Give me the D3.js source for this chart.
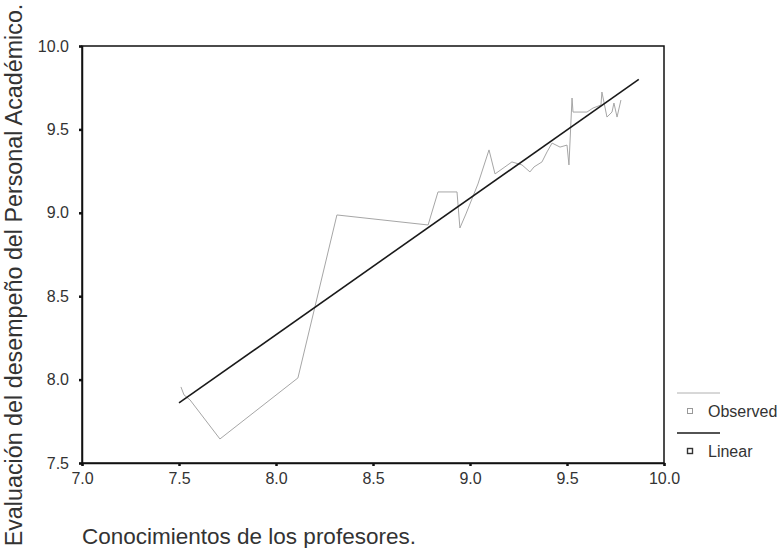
<!DOCTYPE html>
<html>
  <head>
    <meta charset="utf-8">
    <title>Observed vs Linear</title>
    <style>
      body { margin: 0; background: #fff; }
      text { font-family: Arial, "Liberation Sans", sans-serif; fill: #333; }
    </style>
  </head>
  <body>
    <script src="https://cdn.jsdelivr.net/npm/d3@7/dist/d3.min.js"></script>
    <svg id="chart" width="782" height="548"></svg>
    <script>
      // observed series
      const obsX = [7.51, 7.526, 7.557, 7.711, 8.113, 8.314, 8.784, 8.835, 8.933, 8.948, 8.979, 9.041,
              9.098, 9.129, 9.18, 9.216, 9.268, 9.309, 9.33, 9.371, 9.397, 9.423, 9.464, 9.5,
              9.51, 9.526, 9.531, 9.603, 9.634, 9.675, 9.68, 9.706, 9.732, 9.742, 9.758, 9.778]
      const obsY = [7.956, 7.908, 7.878, 7.644, 8.01, 8.987, 8.927, 9.125, 9.125, 8.909, 8.993, 9.173,
              9.377, 9.233, 9.275, 9.305, 9.287, 9.245, 9.275, 9.305, 9.365, 9.418, 9.394, 9.406,
              9.287, 9.688, 9.604, 9.604, 9.628, 9.646, 9.724, 9.574, 9.604, 9.658, 9.574, 9.676]
      // linear fit, end points
      const linX = [7.5, 9.87]
      const linY = [7.86, 9.80]

      const xTicks = [7.0, 7.5, 8.0, 8.5, 9.0, 9.5, 10.0]
      const yTicks = [7.5, 8.0, 8.5, 9.0, 9.5, 10.0]
      const xTitle = 'Conocimientos de los profesores.'
      const yTitle = 'Evaluación del desempeño del Personal Académico.'
      const legendNames = ['Observed', 'Linear']

      const mLeft = 82, mRight = 664, mTop = 46, mBottom = 463

      const svg = d3.select('#chart')
      const x = d3.scaleLinear().domain([7, 10]).range([mLeft, mRight])
      const y = d3.scaleLinear().domain([7.5, 10]).range([mBottom, mTop])

      // frame
      svg.append('rect')
        .attr('x', mLeft).attr('y', mTop)
        .attr('width', mRight - mLeft).attr('height', mBottom - mTop)
        .attr('fill', 'none').attr('stroke', '#111').attr('stroke-width', 1.5)

      // axes
      const xAxis = svg.append('g')
        .attr('transform', `translate(0,${mBottom})`)
        .call(d3.axisBottom(x).tickValues(xTicks).tickFormat(d3.format('.1f')).tickSize(3).tickPadding(7))
      const yAxis = svg.append('g')
        .attr('transform', `translate(${mLeft},0)`)
        .call(d3.axisLeft(y).tickValues(yTicks).tickFormat(d3.format('.1f')).tickSize(3).tickPadding(10))
      for (const g of [xAxis, yAxis]) {
        g.select('.domain').attr('stroke', '#111').attr('stroke-width', 1.5)
        g.selectAll('.tick line').attr('stroke', '#111').attr('stroke-width', 2.5)
        g.selectAll('.tick text').style('font-size', '16px').attr('fill', '#444')
          .style('font-family', 'Arial, "Liberation Sans", sans-serif')
      }

      const line = d3.line().x(d => x(d[0])).y(d => y(d[1]))

      // observed
      svg.append('path')
        .datum(d3.zip(obsX, obsY))
        .attr('d', line)
        .attr('fill', 'none')
        .attr('stroke', '#a6a6a6')
        .attr('stroke-width', 1)

      // linear
      svg.append('path')
        .datum(d3.zip(linX, linY))
        .attr('d', line)
        .attr('fill', 'none')
        .attr('stroke', '#1a1a1a')
        .attr('stroke-width', 1.6)

      // titles
      svg.append('text')
        .attr('x', mLeft).attr('y', 544)
        .style('font-size', '22.5px')
        .text(xTitle)
      svg.append('text')
        .attr('transform', 'translate(22,275) rotate(-90)')
        .attr('text-anchor', 'middle')
        .style('font-size', '23.3px')
        .text(yTitle)

      // legend
      const legColors = ['#b0b0b0', '#1a1a1a']
      const leg = svg.append('g')
      legendNames.forEach((name, i) => {
        const y0 = 393 + i * 40
        leg.append('line')
          .attr('x1', 677).attr('x2', 720).attr('y1', y0).attr('y2', y0)
          .attr('stroke', legColors[i]).attr('stroke-width', i ? 1.5 : 1)
        leg.append('rect')
          .attr('x', 687.5).attr('y', y0 + 15.5).attr('width', 5).attr('height', 5)
          .attr('fill', 'none').attr('stroke', i ? '#333' : '#999').attr('stroke-width', i ? 1.4 : 1)
        leg.append('text')
          .attr('x', 708).attr('y', y0 + 24)
          .style('font-size', '16px')
          .text(name)
      })
    </script>
  </body>
</html>
